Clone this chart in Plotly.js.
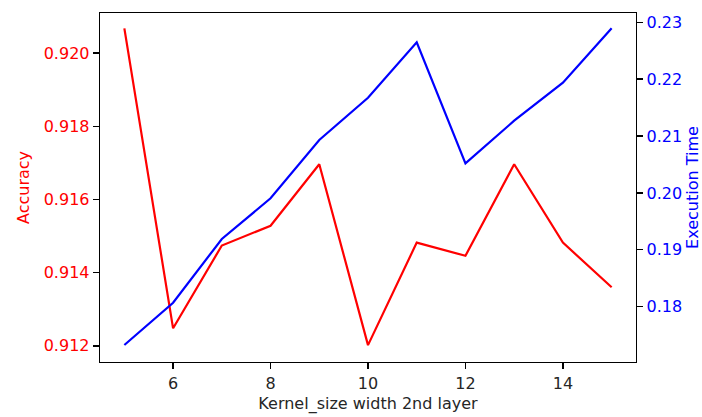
<!DOCTYPE html>
<html>
<head>
<meta charset="utf-8">
<script src="https://cdn.plot.ly/plotly-3.0.1.min.js"></script>
<style>
  html, body { margin: 0; padding: 0; background: #fff; }
  #chart { width: 702px; height: 417px; }
</style>
</head>
<body>
<div id="chart"></div>
<script>
// Kernel size of the second conv layer vs. accuracy and execution time
const kernelSizes = [5, 6, 7, 8, 9, 10, 11, 12, 13, 14, 15];
const accuracy = [0.92067, 0.91248, 0.91474, 0.91528, 0.91696, 0.91202, 0.91482, 0.91446, 0.91696, 0.91482, 0.91360];
const execTime = [0.17327, 0.1807, 0.1919, 0.19905, 0.2093, 0.21673, 0.22647, 0.2052, 0.21269, 0.21937, 0.22893];
const accTicks = [0.912, 0.914, 0.916, 0.918, 0.920];
const timeTicks = [0.18, 0.19, 0.20, 0.21, 0.22, 0.23];
const xTicks = [6, 8, 10, 12, 14];

const RED = '#ff0000';
const BLUE = '#0000ff';
const FONT = 'DejaVu Sans, sans-serif';

const traces = [
  {
    x: kernelSizes, y: accuracy, type: 'scatter', mode: 'lines',
    line: { color: RED, width: 2.2 }, yaxis: 'y', name: 'Accuracy'
  },
  {
    x: kernelSizes, y: execTime, type: 'scatter', mode: 'lines',
    line: { color: BLUE, width: 2.2 }, yaxis: 'y2', name: 'Execution Time'
  }
];

const layout = {
  width: 702, height: 417,
  margin: { l: 100, r: 66, t: 13, b: 55 },
  paper_bgcolor: '#fff', plot_bgcolor: '#fff',
  showlegend: false,
  font: { family: FONT, size: 16, color: '#262626' },
  xaxis: {
    range: [4.5, 15.5],
    tickvals: xTicks, ticktext: xTicks.map(String),
    showgrid: false, zeroline: false,
    showline: true, linecolor: '#000', linewidth: 1.3, mirror: true,
    ticks: 'outside', ticklen: 6, tickwidth: 1.3, tickcolor: '#000',
    tickfont: { family: FONT, size: 16, color: '#262626' },
    title: { text: 'Kernel_size width 2nd layer', font: { family: FONT, size: 16, color: '#262626' }, standoff: 6 }
  },
  yaxis: {
    range: [0.91156, 0.92109],
    tickvals: accTicks, ticktext: accTicks.map(v => v.toFixed(3)),
    showgrid: false, zeroline: false,
    showline: true, linecolor: '#000', linewidth: 1.3, mirror: true,
    ticks: 'outside', ticklen: 6, tickwidth: 1.3, tickcolor: '#000',
    tickfont: { family: FONT, size: 16, color: RED },
    title: { text: 'Accuracy', font: { family: FONT, size: 16, color: RED }, standoff: 10 }
  },
  yaxis2: {
    overlaying: 'y', side: 'right',
    range: [0.17028, 0.23162],
    tickvals: timeTicks, ticktext: timeTicks.map(v => v.toFixed(2)),
    showgrid: false, zeroline: false,
    showline: true, linecolor: '#000', linewidth: 1.3,
    ticks: 'outside', ticklen: 6, tickwidth: 1.3, tickcolor: '#000',
    tickfont: { family: FONT, size: 16, color: BLUE },
    title: { text: 'Execution Time', font: { family: FONT, size: 16, color: BLUE }, standoff: 6 }
  }
};

Plotly.newPlot('chart', traces, layout, { displayModeBar: false, staticPlot: true });
</script>
</body>
</html>
